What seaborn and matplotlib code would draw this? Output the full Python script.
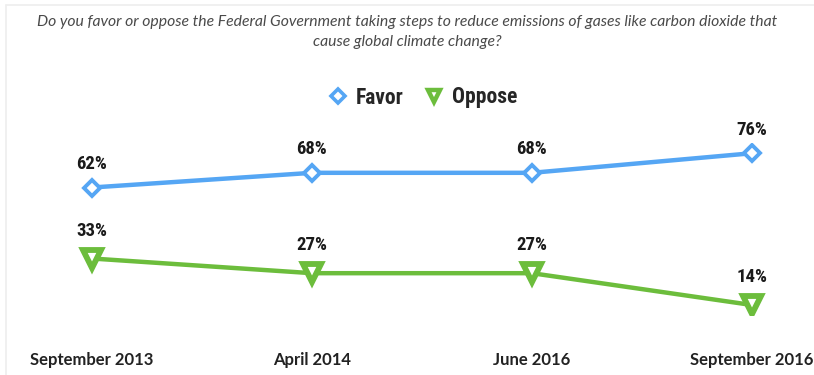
import matplotlib
matplotlib.use("Agg")
import matplotlib.pyplot as plt
import seaborn as sns
import pandas as pd
from matplotlib.lines import Line2D
from matplotlib import font_manager

dates = ["September 2013", "April 2014", "June 2016", "September 2016"]
favor = [62, 68, 68, 76]
oppose = [33, 27, 27, 14]
series_names = ["Favor", "Oppose"]
title = ("Do you favor or oppose the Federal Government taking steps to reduce emissions of gases like carbon dioxide that\n"
         "cause global climate change?")

sns.set_theme(style="white")
names = {f.name for f in font_manager.fontManager.ttflist}
narrow = None
for cand in ["Liberation Sans Narrow", "DejaVu Sans Condensed", "Roboto Condensed", "Open Sans Condensed"]:
    if cand in names:
        narrow = cand
        break
if narrow is None:
    narrow = "DejaVu Sans"
label_font = dict(family=[narrow, "DejaVu Sans"], stretch="condensed")
plt.rcParams['font.family'] = [narrow, 'DejaVu Sans']

df = pd.DataFrame({
    "date": dates * 2,
    "pos": list(range(len(dates))) * 2,
    "value": favor + oppose,
    "series": [series_names[0]] * len(dates) + [series_names[1]] * len(dates),
})

blue = "#55a6f4"
green = "#6cbd3c"
palette = {"Favor": blue, "Oppose": green}

fig = plt.figure(figsize=(8.14, 3.75), dpi=100)
ax = fig.add_axes([0.0319, 0.1605, 0.973, 0.457])

sns.lineplot(data=df, x="pos", y="value", hue="series", palette=palette,
             linewidth=3.2, ax=ax, legend=False, sort=False)
sub_f = df[df.series == "Favor"]
sub_o = df[df.series == "Oppose"]
ax.plot(sub_f.pos, sub_f.value, linestyle="none", marker="D", markersize=8,
        markerfacecolor="white", markeredgecolor=blue, markeredgewidth=2.8)
ax.plot(sub_o.pos, sub_o.value, linestyle="none", marker="v", markersize=13,
        markerfacecolor="white", markeredgecolor=green, markeredgewidth=4.2)

for p, v in zip(sub_f.pos, sub_f.value):
    ax.annotate(f"{v}%", (p, v), xytext=(0, 17), textcoords="offset points",
                ha="center", va="center", fontsize=13.5, fontweight="bold", color="#1a1a1a",
                **label_font)
for p, v in zip(sub_o.pos, sub_o.value):
    ax.annotate(f"{v}%", (p, v), xytext=(0, 20), textcoords="offset points",
                ha="center", va="center", fontsize=13.5, fontweight="bold", color="#1a1a1a",
                **label_font)

ax.set_xlim(-0.3, 3.3)
ax.set_ylim(10, 80)
ax.set_xticks(range(len(dates)))
ax.set_xticklabels(dates, fontsize=12, fontweight="bold", color="#222222",
                   family=["Lato", "DejaVu Sans"])
ax.tick_params(axis="x", length=0, pad=27)
ax.set_yticks([])
ax.set_xlabel("")
ax.set_ylabel("")
for s in ax.spines.values():
    s.set_visible(False)

fig.text(0.5, 0.915, title, ha="center", va="center", fontsize=11.3,
         style="italic", color="#4a4a4a", family=["Lato", "DejaVu Sans"],
         linespacing=1.55)

handles = [
    Line2D([], [], linestyle="none", marker="D", markersize=7, markerfacecolor="white",
           markeredgecolor=blue, markeredgewidth=2.6),
    Line2D([], [], linestyle="none", marker="v", markersize=9, markerfacecolor="white",
           markeredgecolor=green, markeredgewidth=3.2),
]
leg = fig.legend(handles, series_names, loc="center", bbox_to_anchor=(0.52, 0.74),
                 ncol=2, frameon=False, handlelength=0.8, handletextpad=0.45,
                 columnspacing=1.0,
                 prop={"family": [narrow, "DejaVu Sans"], "stretch": "condensed",
                       "weight": "bold", "size": 15.5})

fig.add_artist(Line2D([0.007, 1.0], [0.987, 0.987], transform=fig.transFigure,
                      color="#eeeeee", linewidth=1.2))
fig.add_artist(Line2D([0.007, 0.007], [0.0, 0.987], transform=fig.transFigure,
                      color="#eeeeee", linewidth=1.2))

fig.savefig("out.png", dpi=100, facecolor="white")
